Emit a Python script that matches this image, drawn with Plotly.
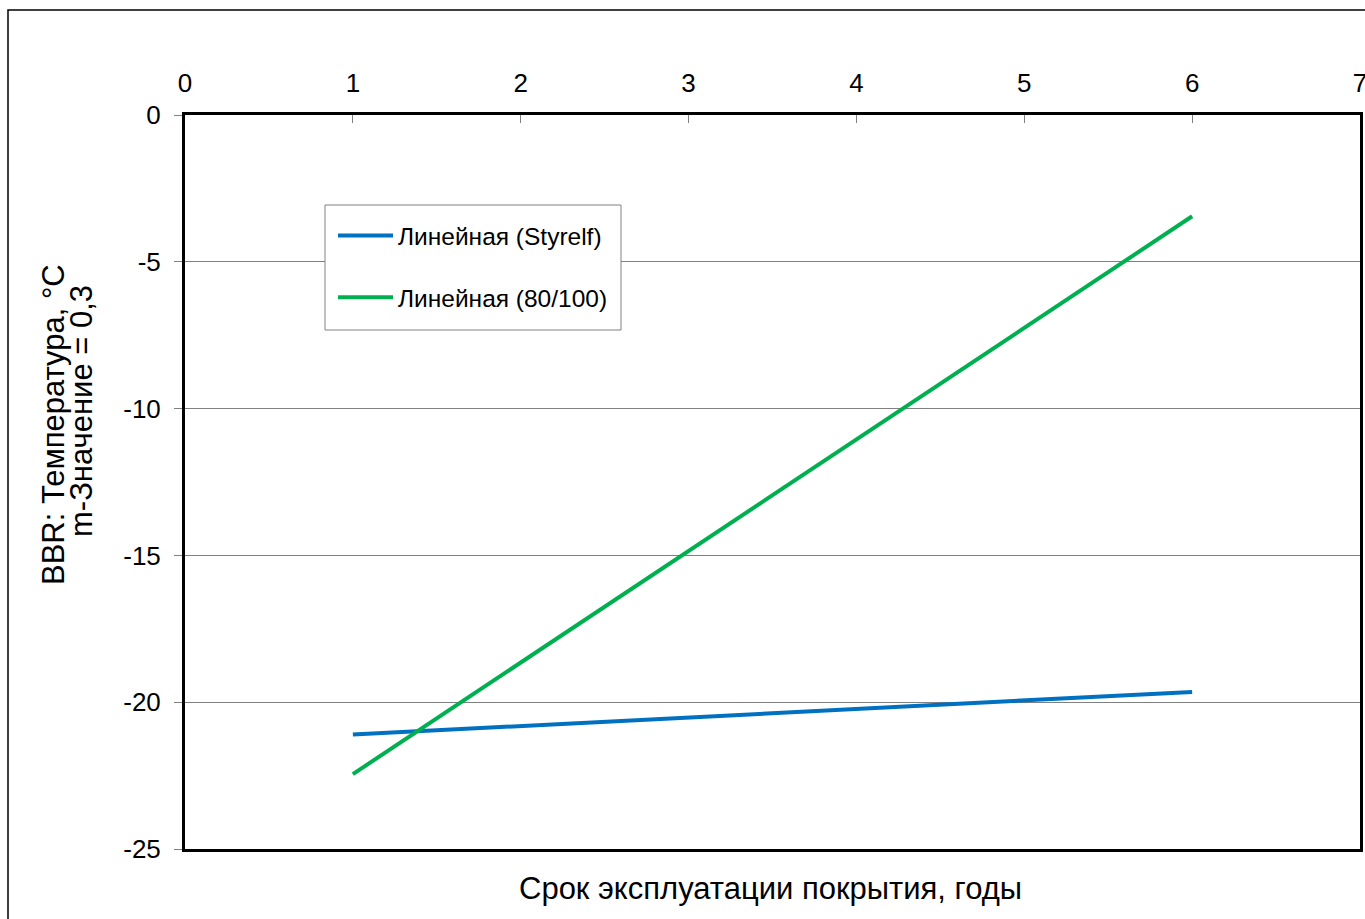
import plotly.graph_objects as go

years = [1, 6]
styrelf = [-21.1, -19.65]
bit80_100 = [-22.45, -3.45]
names = ["Линейная (Styrelf)", "Линейная (80/100)"]
x_ticks = [0, 1, 2, 3, 4, 5, 6, 7]
y_ticks = [0, -5, -10, -15, -20, -25]
y_ticktext = ["0", "-5", "-10", "-15", "-20", "-25"]
y_title = ["BBR: Температура, °C", "m-Значение = 0,3"]
x_title = "Срок эксплуатации покрытия, годы"

W, H = 1365, 919
L, T = 185, 115
R = W - 1360
B = H - 849
pw, ph = W - L - R, H - T - B

def px(xp):
    return (xp - L) / pw

def py(yp):
    return (T + ph - yp) / ph

FONT = "Liberation Sans, Arial, sans-serif"

fig = go.Figure()
fig.add_trace(go.Scatter(x=years, y=styrelf, mode="lines", name=names[0],
                         legendgroup="a",
                         line=dict(color="#0070C0", width=4)))
fig.add_trace(go.Scatter(x=years, y=bit80_100, mode="lines", name=names[1],
                         legendgroup="b",
                         line=dict(color="#00B050", width=4)))

fig.update_layout(
    width=W, height=H, autosize=False,
    margin=dict(l=L, r=R, t=T, b=B, pad=0, autoexpand=False),
    paper_bgcolor="white", plot_bgcolor="white",
    font=dict(family=FONT, color="black", size=26),
    showlegend=True,
    legend=dict(x=px(333), y=py(213), xanchor="left", yanchor="top",
                bgcolor="rgba(0,0,0,0)", borderwidth=0,
                font=dict(size=24.5, family=FONT), tracegroupgap=27,
                itemwidth=55),
    xaxis=dict(range=[0, 7], side="top", tickvals=x_ticks,
               ticks="inside", ticklen=8, tickcolor="#808080", tickwidth=1,
               showgrid=False, zeroline=False, showline=True,
               linecolor="black", linewidth=3, mirror=True,
               automargin=False, ticklabeloverflow="allow",
               ticklabelstandoff=10, tickfont=dict(size=26)),
    yaxis=dict(range=[-25, 0], tickvals=y_ticks, ticktext=y_ticktext,
               ticks="outside", ticklen=8, tickcolor="#808080", tickwidth=1,
               showgrid=True, gridcolor="#808080", gridwidth=1,
               zeroline=False, showline=True, linecolor="black",
               linewidth=3, mirror=True, automargin=False,
               ticklabeloverflow="allow",
               ticklabelstandoff=8, tickfont=dict(size=26)),
    shapes=[
        dict(type="rect", xref="paper", yref="paper",
             x0=px(8), x1=1.05, y0=-0.3, y1=py(10),
             line=dict(color="black", width=1.5), layer="below"),
        dict(type="rect", xref="paper", yref="paper",
             x0=px(325), x1=px(621), y0=py(330), y1=py(205),
             fillcolor="white", line=dict(color="#808080", width=1),
             layer="above"),
    ],
    annotations=[
        dict(text=y_title[0], xref="paper", yref="paper",
             x=px(53), y=py(425), xanchor="center", yanchor="middle",
             textangle=-90, showarrow=False,
             font=dict(size=31, family=FONT)),
        dict(text=y_title[1], xref="paper", yref="paper",
             x=px(82), y=py(411), xanchor="center", yanchor="middle",
             textangle=-90, showarrow=False,
             font=dict(size=31, family=FONT)),
        dict(text=x_title, xref="paper", yref="paper",
             x=px(770), y=py(888), xanchor="center", yanchor="middle",
             showarrow=False, font=dict(size=31, family=FONT)),
    ],
)

post = ("document.body.style.margin='0';"
        "document.body.style.overflow='hidden';")

fig.write_html("out.html", post_script=post,
               config={"responsive": False, "displayModeBar": False})
